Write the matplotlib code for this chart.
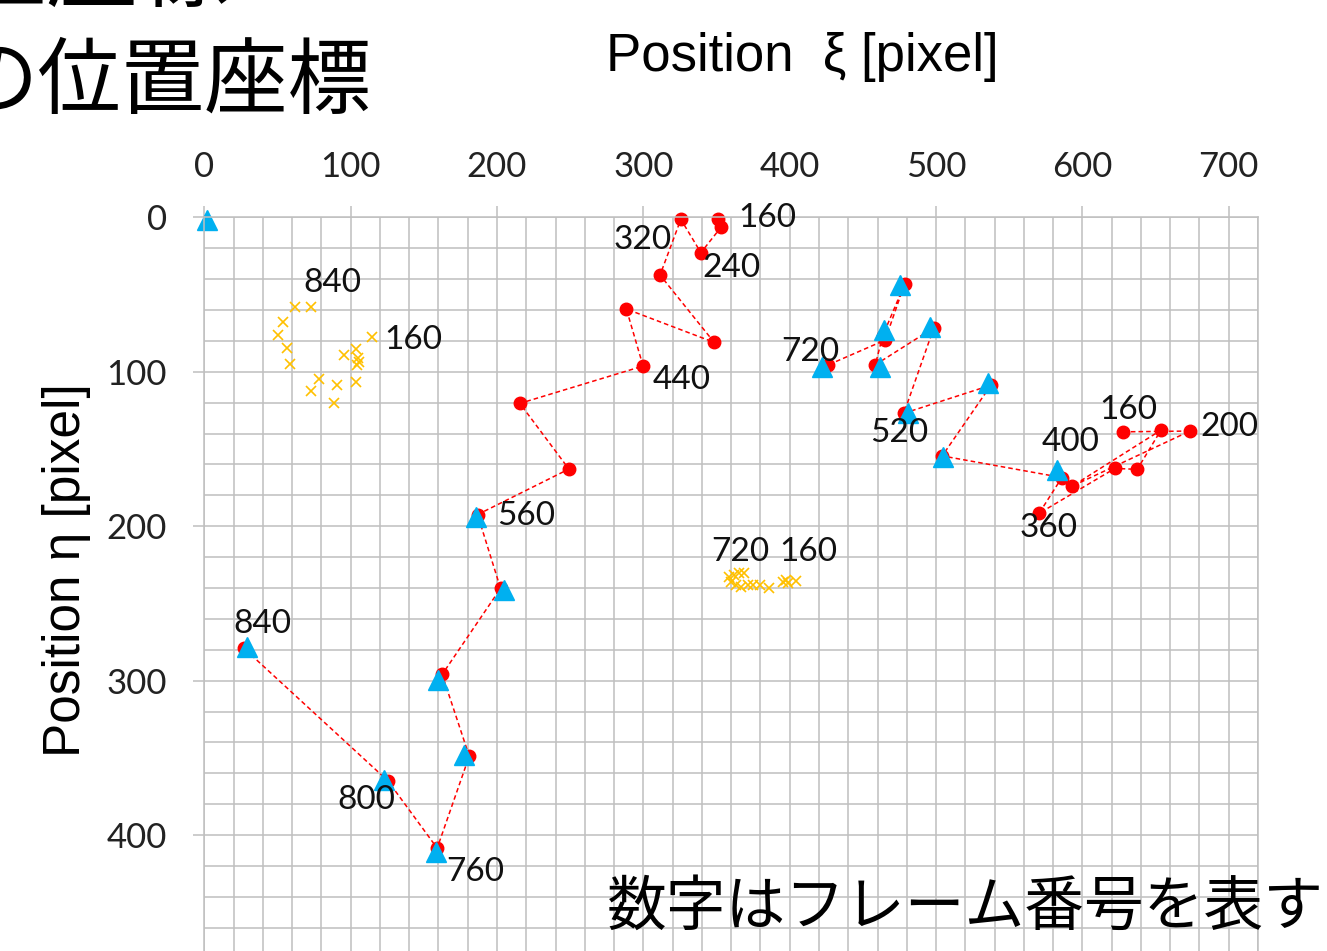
import matplotlib
matplotlib.use("Agg")
import matplotlib.pyplot as plt
from matplotlib.ticker import MultipleLocator

# trajectory A (left), red dots joined by dashed line, in frame order
path_a_x = [350.7, 353.0, 339.3, 325.6, 311.4, 348.4, 288.4, 299.8, 215.6, 249.1,
            186.7, 202.4, 162.5, 181.0, 159.1, 125.5, 27.0]
path_a_y = [1.3, 6.5, 22.9, 1.3, 37.4, 81.0, 59.4, 96.3, 120.5, 163.0,
            192.5, 240.3, 296.0, 348.9, 408.5, 365.0, 279.0]

# trajectory B (right)
path_b_x = [627.9, 673.5, 593.2, 653.7, 637.5, 622.2, 570.4, 586.0, 504.2, 537.5,
            478.0, 498.5, 458.5, 463.5, 478.5, 465.2, 426.5]
path_b_y = [138.9, 138.4, 174.0, 137.8, 163.2, 162.6, 191.7, 168.5, 154.5, 108.7,
            126.9, 71.5, 95.5, 76.9, 43.2, 79.5, 95.5]

# blue triangles
tri_x = [2, 475.4, 464.7, 496.2, 461.8, 422.1, 535.7, 481.0, 504.7, 582.7,
         185.3, 204.7, 159.5, 177.3, 122.5, 158.6, 29.4]
tri_y = [2, 43.8, 72.9, 70.9, 96.9, 96.9, 107.3, 126.8, 155.2, 163.7,
         193.9, 241.4, 299.7, 348.3, 364.4, 410.9, 278.1]

# yellow crosses, two clusters
cross_x = [61.6, 72.8, 53.6, 50.0, 56.4, 58.6, 78.0, 72.8, 88.3, 90.6, 103.6, 95.7,
           103.6, 105.0, 105.4, 104.3, 114.6,
           358.6, 362.2, 365.6, 369.1, 359.8, 363.2, 366.9, 371.5, 374.9, 379.5,
           385.7, 395.5, 397.8, 398.9, 404.6]
cross_y = [57.9, 57.9, 68.0, 76.2, 84.4, 95.0, 104.9, 112.5, 120.5, 108.7, 106.5, 89.2,
           85.5, 91.3, 93.5, 95.6, 77.3,
           232.8, 231.7, 230.6, 230.2, 235.9, 238.1, 239.2, 238.1, 238.1, 238.1,
           239.9, 236.0, 234.9, 237.1, 235.6]

# frame-number labels: (point index, text)
labels_a = [(0, "160"), (2, "240"), (4, "320"), (7, "440"), (10, "560"),
            (14, "760"), (15, "800"), (16, "840")]
labels_b = [(16, "720"), (10, "520"), (7, "400"), (6, "360"), (0, "160"), (1, "200")]
labels_c = [(1, "840"), (16, "160"), (17, "720"), (31, "160")]

# label offsets in screen pixels (right, down)
off_a = [(50, -1), (31, 15), (-17, -35), (39, 14), (49, 1), (38, 24), (-22, 19), (19, -24)]
off_b = [(-18, -13), (-5, 20), (9, -36), (10, 15), (5, -22), (39, -4)]
off_c = [(21, -24), (41, 3), (11, -25), (12, -29)]

RED = "#FF0000"
BLUE = "#00B0F0"
GOLD = "#FFC000"
GRID = "#BFBFBF"

fig = plt.figure(figsize=(13.27, 9.51), dpi=100)
ax = fig.add_axes([0.154, -0.008, 0.794, 0.7795])

ax.set_xlim(0, 720)
ax.set_ylim(480, 0)
ax.xaxis.tick_top()
ax.xaxis.set_major_locator(MultipleLocator(100))
ax.xaxis.set_minor_locator(MultipleLocator(20))
ax.yaxis.set_major_locator(MultipleLocator(100))
ax.yaxis.set_minor_locator(MultipleLocator(20))
ax.grid(which="both", color=GRID, linewidth=1.1)
ax.set_axisbelow(True)
for s in ax.spines.values():
    s.set_color(GRID)
    s.set_linewidth(1.1)
ax.tick_params(which="major", direction="out", length=8, width=1.1, color=GRID,
               labelsize=25, labelcolor="#222222")
ax.tick_params(axis="x", pad=17)
ax.tick_params(axis="y", pad=19)
ax.tick_params(which="minor", length=0)
for lab in ax.get_xticklabels() + ax.get_yticklabels():
    lab.set_family("Lato")

ax.plot(cross_x, cross_y, linestyle="none", marker="x", ms=7, mew=1.2, color=GOLD,
        clip_on=False)
for px, py in [(path_a_x, path_a_y), (path_b_x, path_b_y)]:
    ax.plot(px, py, color=RED, lw=1.1, linestyle=(0, (3, 2)), marker="o", ms=9,
            clip_on=False)
ax.plot(tri_x, tri_y, linestyle="none", marker="^", ms=15, color=BLUE, clip_on=False)

for xs, ys, labs, offs in [(path_a_x, path_a_y, labels_a, off_a),
                           (path_b_x, path_b_y, labels_b, off_b),
                           (cross_x, cross_y, labels_c, off_c)]:
    for (i, txt), (dx, dy) in zip(labs, offs):
        ax.annotate(txt, (xs[i], ys[i]), xytext=(dx, -dy), textcoords="offset pixels",
                    ha="center", va="center", fontsize=24, family="Lato",
                    color="#111111")

fig.text(0.457, 0.94, "Position  ξ [pixel]", fontsize=38, family="Liberation Sans",
         ha="left", va="center")
fig.text(0.05, 0.40, "Position η [pixel]", fontsize=37, family="Liberation Sans",
         rotation=90, ha="center", va="center")
fig.text(0.457, 0.028, "数字はフレーム番号を表す", fontsize=43,
         family=["Noto Sans CJK JP", "DejaVu Sans"], ha="left", va="baseline")
fig.text(0.28, 0.888, "の位置座標", fontsize=60,
         family=["Noto Sans CJK JP", "DejaVu Sans"], ha="right", va="baseline")
fig.text(0.173, 1.0, "位置座標", fontsize=66,
         family=["Noto Sans CJK JP", "DejaVu Sans"], ha="right", va="baseline")

fig.savefig("out.png", dpi=100)
